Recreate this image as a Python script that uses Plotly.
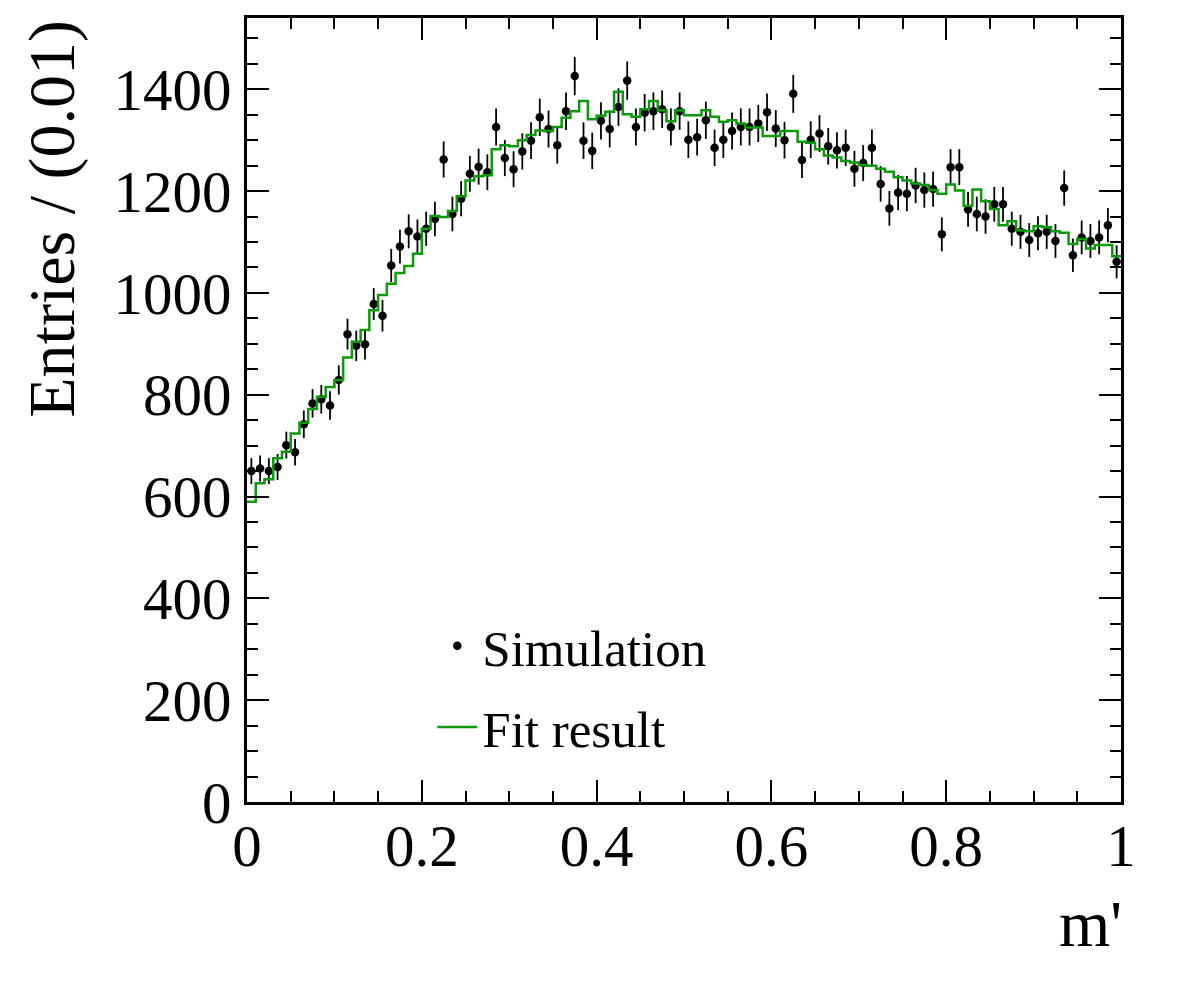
import numpy as np
import plotly.graph_objects as go

# ---------------- data ----------------
bin_width = 0.01
bin_edges = np.round(np.arange(0, 1.0 + 1e-9, bin_width), 2)
bin_centers = np.round(bin_edges[:-1] + bin_width / 2, 3)

sim_counts = [
    650, 655, 650, 658, 701, 687, 742, 783, 791, 779,
    829, 919, 896, 899, 978, 955, 1054, 1091, 1121, 1111,
    1126, 1145, 1262, 1155, 1185, 1234, 1248, 1237, 1326, 1265,
    1243, 1278, 1299, 1345, 1322, 1290, 1357, 1426, 1299, 1279,
    1338, 1322, 1365, 1417, 1326, 1354, 1357, 1361, 1326, 1357,
    1301, 1306, 1339, 1285, 1301, 1318, 1326, 1326, 1333, 1355,
    1323, 1300, 1391, 1261, 1301, 1313, 1288, 1280, 1285, 1244,
    1255, 1285, 1214, 1166, 1197, 1195, 1211, 1202, 1204, 1115,
    1247, 1247, 1164, 1155, 1150, 1174, 1174, 1126, 1120, 1104,
    1117, 1120, 1102, 1206, 1074, 1109, 1102, 1109, 1133, 1061,
]

fit_values = [
    590, 626, 634, 675, 688, 724, 745, 772, 796, 815,
    829, 873, 904, 927, 966, 996, 1018, 1039, 1053, 1077,
    1126, 1151, 1149, 1161, 1190, 1221, 1229, 1231, 1282, 1290,
    1288, 1300, 1310, 1319, 1318, 1326, 1344, 1357, 1377, 1341,
    1348, 1356, 1395, 1351, 1346, 1361, 1377, 1359, 1337, 1359,
    1349, 1349, 1359, 1346, 1336, 1339, 1333, 1325, 1325, 1308,
    1308, 1318, 1318, 1297, 1295, 1282, 1270, 1266, 1259, 1256,
    1251, 1250, 1244, 1238, 1227, 1221, 1215, 1212, 1202, 1195,
    1213, 1201, 1171, 1203, 1180, 1165, 1133, 1141, 1123, 1121,
    1131, 1129, 1121, 1118, 1096, 1106, 1087, 1094, 1094, 1072,
]

x_tick_vals = [0, 0.2, 0.4, 0.6, 0.8, 1]
x_tick_text = ["0", "0.2", "0.4", "0.6", "0.8", "1"]
y_tick_vals = [0, 200, 400, 600, 800, 1000, 1200, 1400]
y_tick_text = ["0", "200", "400", "600", "800", "1000", "1200", "1400"]

# ---------------- figure ----------------
FONT = "Liberation Serif, Times New Roman, serif"
GREEN = "#0a9a0a"

counts = np.array(sim_counts, dtype=float)
step_x = np.append(bin_edges[:-1], bin_edges[-1])
step_y = np.append(np.array(fit_values, dtype=float), fit_values[-1])

fig = go.Figure()

fig.add_trace(go.Scatter(
    x=bin_centers, y=counts, mode="markers", name="Simulation",
    marker=dict(color="black", size=8.5),
    error_y=dict(type="data", array=np.sqrt(counts), color="black",
                 thickness=1.8, width=0),
    legendgroup="a",
))

fig.add_trace(go.Scatter(
    x=step_x, y=step_y, mode="lines", name="Fit result",
    line=dict(color=GREEN, width=2.5, shape="hv"),
    legendgroup="b",
))

axis_common = dict(
    showgrid=False, zeroline=False, showline=True, linecolor="black",
    linewidth=2.5, mirror="ticks", ticks="inside", tickcolor="black",
    tickwidth=2, ticklen=22,
    tickfont=dict(family=FONT, size=59, color="black"),
)

fig.update_xaxes(
    range=[0, 1], tickvals=x_tick_vals, ticktext=x_tick_text,
    minor=dict(dtick=0.05, ticks="inside", ticklen=11, tickwidth=2, tickcolor="black"),
    ticklabelstandoff=-10,
    **axis_common,
)
fig.update_yaxes(
    range=[0, 1540], tickvals=y_tick_vals, ticktext=y_tick_text,
    minor=dict(dtick=50, ticks="inside", ticklen=11, tickwidth=2, tickcolor="black"),
    ticklabelstandoff=1,
    **axis_common,
)

fig.add_annotation(
    text="Entries / (0.01)", textangle=-90, showarrow=False,
    xref="paper", yref="paper", x=-0.268, y=1.0, xanchor="left", yanchor="top",
    font=dict(family=FONT, size=66, color="black"),
)
fig.add_annotation(
    text="m'", showarrow=False,
    xref="paper", yref="paper", x=1.004, y=-0.155, xanchor="right", yanchor="middle",
    font=dict(family=FONT, size=66, color="black"),
)

fig.update_layout(
    width=1182, height=1005,
    margin=dict(l=247, r=61, t=18, b=203),
    plot_bgcolor="white", paper_bgcolor="white",
    showlegend=True,
    legend=dict(
        x=0.212, y=0.25, xanchor="left", yanchor="top",
        bgcolor="rgba(0,0,0,0)", borderwidth=0,
        font=dict(family=FONT, size=51, color="black"),
        tracegroupgap=12, traceorder="grouped", itemwidth=40,
    ),
)

fig.write_html("out.html")
